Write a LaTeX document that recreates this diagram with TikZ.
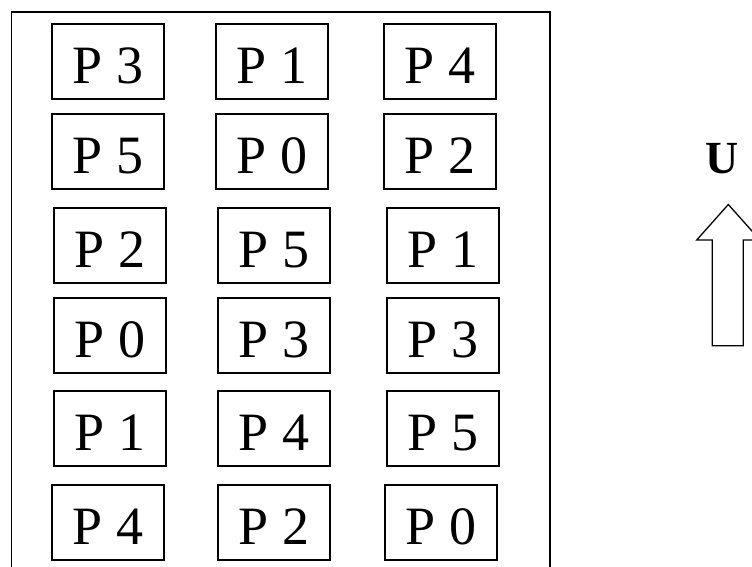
\documentclass[tikz,border=0pt]{standalone}
\usepackage{fontspec}
\setmainfont{Liberation Serif}
\begin{document}
\begin{tikzpicture}[x=1pt,y=-1pt,
  pbox/.style={draw,line width=1.6pt,inner sep=0pt,anchor=north west,
    minimum width=112pt,minimum height=75pt,text height=60pt,text depth=15pt,
    font=\fontsize{54}{54}\selectfont},
  frame/.style={line width=1.6pt},
  arrowshape/.style={draw,line width=1.3pt}]
\useasboundingbox (0,0) rectangle (752,567);
% outer frame (bottom edge lies below the picture)
\draw[frame] (11.5,600) -- (11.5,12) -- (550,12) -- (550,600);
% column 1
\node[pbox] (a1) at (51,23) {P 3};
\node[pbox] (a2) at (51,113) {P 5};
\node[pbox] (a3) at (53,207) {P 2};
\node[pbox] (a4) at (53,297) {P 0};
\node[pbox] (a5) at (53,390) {P 1};
\node[pbox] (a6) at (51,484) {P 4};
% column 2
\node[pbox] (b1) at (215,23) {P 1};
\node[pbox] (b2) at (215,113) {P 0};
\node[pbox] (b3) at (217,207) {P 5};
\node[pbox] (b4) at (217,297) {P 3};
\node[pbox] (b5) at (217,390) {P 4};
\node[pbox] (b6) at (217,484) {P 2};
% column 3
\node[pbox] (c1) at (383,23) {P 4};
\node[pbox] (c2) at (383,113) {P 2};
\node[pbox] (c3) at (386,207) {P 1};
\node[pbox] (c4) at (386,297) {P 3};
\node[pbox] (c5) at (386,390) {P 5};
\node[pbox] (c6) at (384,484) {P 0};
% U label and block arrow
\node[font=\bfseries\fontsize{46}{46}\selectfont,anchor=base,inner sep=0pt] (u) at (722.5,173) {U};
\draw[arrowshape] (728.3,204.5) -- (760,240) -- (743.3,240) -- (743.3,345.7)
  -- (712.3,345.7) -- (712.3,240) -- (696.7,240) -- cycle;
\end{tikzpicture}
\end{document}
